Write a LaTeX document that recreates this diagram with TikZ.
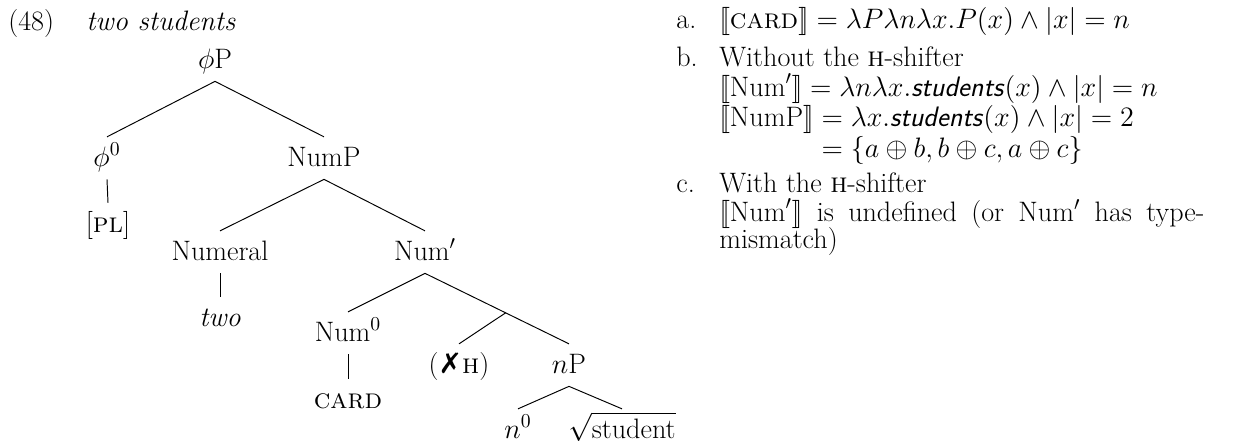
\documentclass[tikz,border=0pt]{standalone}
\usepackage{fix-cm}
\usepackage{fontspec}
\newfontfamily\symbfont{DejaVu Sans}
\usetikzlibrary{positioning}
\newcommand{\sembr}[1]{[\![#1]\!]}

\begin{document}
\begin{tikzpicture}[
    x=0.02cm, y=-0.02cm,
    tree/.style={font=\fontsize{16}{19}\selectfont, inner sep=0pt, anchor=base,
                 text height=16.4pt, text depth=7.4pt},
    gloss/.style={font=\fontsize{16}{19}\selectfont, inner sep=0pt, anchor=base west},
    branch/.style={line width=0.55pt}
]
\useasboundingbox (0,0) rectangle (1247,444);

% example number and title
\node[gloss] (exnum) at (8,30) {(48)};
\node[gloss] (title) at (86,30) {\textit{two students}};

% the tree
\node[tree] (phiP) at (215,68) {$\phi$P};
\node[tree] (phizero) at (107,166) {$\phi^0$};
\node[tree] (pl) at (108,232) {[\textsc{pl}]};
\node[tree] (numP) at (324,166) {NumP};
\node[tree] (numeral) at (220,260) {Numeral};
\node[tree] (two) at (220,326) {\textit{two}};
\node[tree] (numbar) at (425,260) {Num$'$};
\node[tree] (numzero) at (348,341) {Num$^0$};
\node[tree] (card) at (348,408) {\textsc{card}};
\node[tree] (xh) at (459,373) {({\symbfont\bfseries ✗}\textsc{h})};
\node[tree] (nP) at (569,373) {$n$P};
\node[tree] (nzero) at (518,438) {$n^0$};
\node[tree] (root) at (622,438) {$\sqrt{\mbox{student}}$};

\draw[branch] (phiP.south) -- (phizero.north);
\draw[branch] (phiP.south) -- (numP.north);
\draw[branch] (phizero.south) -- (pl.north);
\draw[branch] (numP.south) -- (numeral.north);
\draw[branch] (numP.south) -- (numbar.north);
\draw[branch] (numeral.south) -- (two.north);
\draw[branch] (numbar.south) -- (numzero.north);
\draw[branch] (numbar.south) -- coordinate[pos=0.56] (hmid) (nP.north);
\draw[branch] (hmid) -- (xh.north);
\draw[branch] (numzero.south) -- (card.north);
\draw[branch] (nP.south) -- (nzero.north);
\draw[branch] (nP.south) -- (root.north);

% the meanings
\node[gloss] (labela) at (676,28) {a.};
\node[gloss] (itema) at (719,28) {$\sembr{\mbox{\textsc{card}}} = \lambda P\lambda n\lambda x.P(x)\wedge|x|=n$};
\node[gloss] (labelb) at (676,66) {b.};
\node[gloss] (itemb) at (719,66) {Without the \textsc{h}-shifter};
\node[gloss] (numbarline) at (719,96) {$\sembr{\mbox{Num}'} = \lambda n\lambda x.\mbox{\textsf{\textit{students}}}(x)\wedge|x|=n$};
\node[gloss] (numPline) at (719,126) {$\sembr{\mbox{NumP}} = \lambda x.\mbox{\textsf{\textit{students}}}(x)\wedge|x|=2$};
\node[gloss] (setline) at (719,157) {$\phantom{\sembr{\mbox{NumP}}} = \{a\oplus b, b\oplus c, a\oplus c\}$};
\node[gloss] (labelc) at (676,192) {c.};
\node[gloss] (itemc) at (719,192) {With the \textsc{h}-shifter};
\node[gloss] (undefline) at (719,221) {\makebox[276pt][s]{$\sembr{\mbox{Num}'}$ is undefined (or Num$'$ has type-}};
\node[gloss] (mismatchline) at (719,248) {mismatch)};
\end{tikzpicture}
\end{document}
